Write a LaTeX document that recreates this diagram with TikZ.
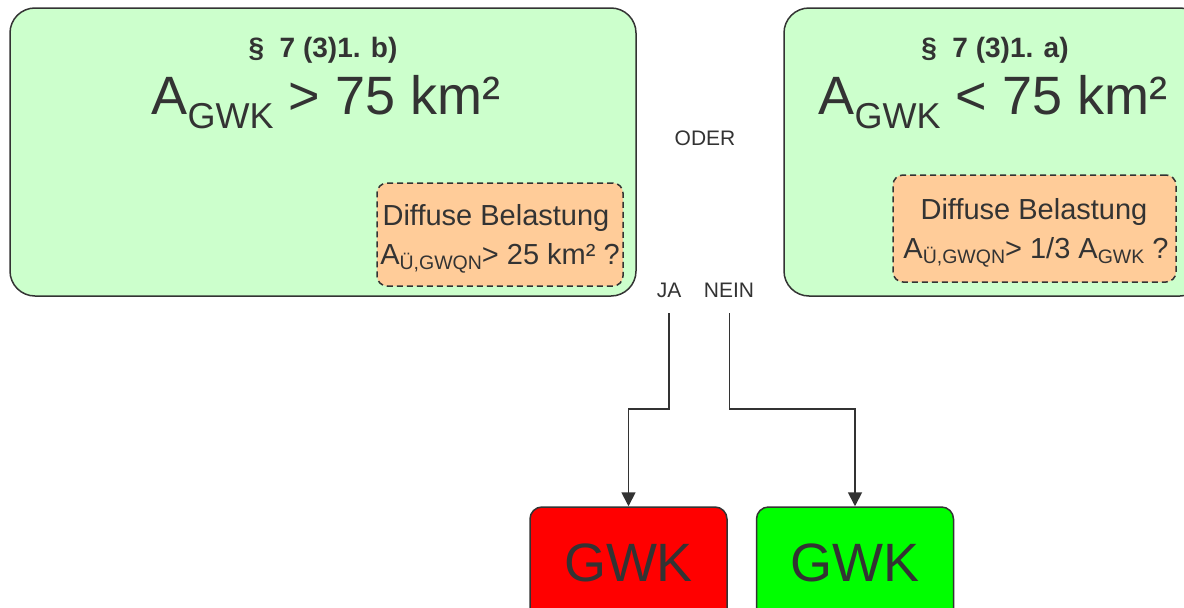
\documentclass[tikz,border=0pt]{standalone}
\usepackage{fontspec}
\setmainfont{Liberation Sans}
\usetikzlibrary{arrows.meta}
\definecolor{lgreen}{HTML}{CCFFCC}
\definecolor{peach}{HTML}{FFCC99}
\definecolor{dgray}{HTML}{333333}
\definecolor{rred}{HTML}{FF0000}
\definecolor{ggreen}{HTML}{00FF00}
\newcommand\fsz[1]{\fontsize{#1}{#1}\selectfont}
\begin{document}
\begin{tikzpicture}[x=1pt,y=-1pt,
  bigbox/.style={draw=dgray, line width=1.5pt, fill=lgreen, rounded corners=25pt, inner sep=0pt},
  diffbox/.style={draw=dgray, line width=1.5pt, dash pattern=on 6pt off 4pt, fill=peach, rounded corners=10pt, inner sep=0pt},
  resbox/.style={draw=dgray, line width=1.5pt, rounded corners=12pt, inner sep=0pt, minimum width=197pt, minimum height=118pt},
  lbl/.style={text=dgray, inner sep=0pt},
  conn/.style={draw=dgray, line width=1.8pt, -{Triangle[length=14pt,width=14pt]}}]
\useasboundingbox (0,0) rectangle (1184,608);
\clip (0,0) rectangle (1184,608);
\fill[white] (0,0) rectangle (1184,608);
% big boxes
\node[bigbox, minimum width=626pt, minimum height=288pt] (lbox) at (323,152) {};
\node[bigbox, minimum width=421pt, minimum height=288pt] (rbox) at (994.5,152) {};
% titles
\node[lbl, font=\bfseries\fsz{28pt}] (ltitle) at (323,50) {§\ \ 7 (3)1. b)};
\node[lbl, font=\fsz{54pt}] (lbig) at (326,102) {A\raisebox{-14pt}{\fsz{36pt}GWK} > 75 km²};
\node[lbl, font=\bfseries\fsz{28pt}] (rtitle) at (995,50) {§\ \ 7 (3)1. a)};
\node[lbl, font=\fsz{54pt}] (rbig) at (993,102) {A\raisebox{-14pt}{\fsz{36pt}GWK} < 75 km²};
% diffuse boxes
\node[diffbox, minimum width=246pt, minimum height=103pt] (ldiff) at (500,234.5) {};
\node[lbl, font=\fsz{29pt}] (ldiff1) at (496,218) {Diffuse Belastung};
\node[lbl, font=\fsz{29pt}] (ldiff2) at (500,258) {A\raisebox{-5pt}{\fsz{19.5pt}Ü,GWQN}> 25 km² ?};
\node[diffbox, minimum width=283pt, minimum height=107pt] (rdiff) at (1034.5,228.5) {};
\node[lbl, font=\fsz{29pt}] (rdiff1) at (1034,212) {Diffuse Belastung};
\node[lbl, font=\fsz{29pt}] (rdiff2) at (1036,252) {A\raisebox{-5pt}{\fsz{19.5pt}Ü,GWQN}> 1/3 A\raisebox{-5pt}{\fsz{19.5pt}GWK} ?};
% labels
\node[lbl, font=\fsz{21pt}] (oder) at (705,138) {ODER};
\node[lbl, font=\fsz{21pt}] (ja) at (669,290) {JA};
\node[lbl, font=\fsz{21pt}] (nein) at (729,290) {NEIN};
% result boxes
\node[resbox, fill=rred] (red) at (628.5,566) {};
\node[lbl, font=\fsz{54pt}] (redt) at (628.5,563) {GWK};
\node[resbox, fill=ggreen] (grn) at (855,566) {};
\node[lbl, font=\fsz{54pt}] (grnt) at (855,563) {GWK};
% connectors
\coordinate (jastart) at (669,313);
\coordinate (neinstart) at (729.5,313);
\draw[conn] (jastart) -- ++(0,96) -| (red.north);
\draw[conn] (neinstart) -- ++(0,96) -| (grn.north);
\end{tikzpicture}
\end{document}
